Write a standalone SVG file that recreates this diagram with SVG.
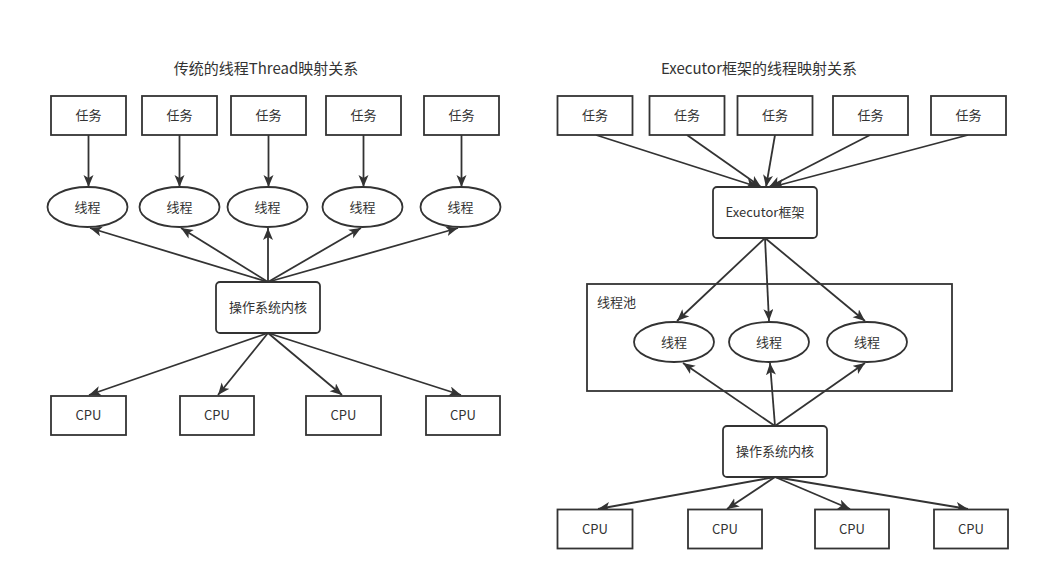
<svg xmlns="http://www.w3.org/2000/svg" width="1039" height="581" viewBox="0 0 1039 581">
<style>
.box{fill:#fff;stroke:#333;stroke-width:1.8}
.ell{fill:#fff;stroke:#333;stroke-width:1.8}
.lbl{font-family:"Noto Sans CJK SC","Microsoft YaHei",sans-serif;font-size:13px;fill:#333;text-anchor:middle}
.title{font-family:"Noto Sans CJK SC","Microsoft YaHei",sans-serif;font-size:15px;fill:#333;text-anchor:middle}
.edge{fill:none;stroke:#333;stroke-width:1.8;marker-end:url(#arr)}
</style>
<defs>
<marker id="arr" markerUnits="userSpaceOnUse" markerWidth="13" markerHeight="11" refX="12" refY="5" orient="auto" viewBox="0 0 13 11">
<path d="M0,0 L12,5 L0,10 L3,5 z" fill="#333"/>
</marker>
</defs>
<rect width="1039" height="581" fill="#fff"/>

<text class="title" x="266" y="74">传统的线程Thread映射关系</text>
<text class="title" x="759" y="74">Executor框架的线程映射关系</text>

<g id="connectors">
<line class="edge" x1="88.5" y1="135" x2="88.5" y2="187"/>
<line class="edge" x1="179.5" y1="135" x2="179.5" y2="187"/>
<line class="edge" x1="268.5" y1="135" x2="268.5" y2="187"/>
<line class="edge" x1="363.5" y1="135" x2="363.5" y2="187"/>
<line class="edge" x1="461.5" y1="135" x2="461.5" y2="187"/>
<line class="edge" x1="268" y1="282" x2="90" y2="228"/>
<line class="edge" x1="268" y1="282" x2="181" y2="228"/>
<line class="edge" x1="268" y1="282" x2="268" y2="228"/>
<line class="edge" x1="268" y1="282" x2="361" y2="228"/>
<line class="edge" x1="268" y1="282" x2="458" y2="228"/>
<line class="edge" x1="268" y1="333" x2="89" y2="395"/>
<line class="edge" x1="268" y1="333" x2="218" y2="395"/>
<line class="edge" x1="268" y1="333" x2="342" y2="395"/>
<line class="edge" x1="268" y1="333" x2="461" y2="395"/>

<line class="edge" x1="596" y1="135" x2="758" y2="187"/>
<line class="edge" x1="687" y1="135" x2="761" y2="187"/>
<line class="edge" x1="775" y1="135" x2="766" y2="187"/>
<line class="edge" x1="870" y1="135" x2="769" y2="187"/>
<line class="edge" x1="968" y1="135" x2="772" y2="187"/>
<line class="edge" x1="765" y1="238" x2="677" y2="321"/>
<line class="edge" x1="765" y1="238" x2="769" y2="321"/>
<line class="edge" x1="765" y1="238" x2="865" y2="321"/>
<line class="edge" x1="775" y1="426" x2="683" y2="363"/>
<line class="edge" x1="775" y1="426" x2="770" y2="363"/>
<line class="edge" x1="775" y1="426" x2="865" y2="363"/>
<line class="edge" x1="775" y1="477" x2="598" y2="509"/>
<line class="edge" x1="775" y1="477" x2="727" y2="509"/>
<line class="edge" x1="775" y1="477" x2="850" y2="509"/>
<line class="edge" x1="775" y1="477" x2="968" y2="509"/>
</g>

<g id="L-task1"><rect class="box" x="51" y="96" width="75" height="39"/><text class="lbl" x="88.5" y="115.5" dy="0.35em">任务</text></g>
<g id="L-task2"><rect class="box" x="142" y="96" width="75" height="39"/><text class="lbl" x="179.5" y="115.5" dy="0.35em">任务</text></g>
<g id="L-task3"><rect class="box" x="231" y="96" width="75" height="39"/><text class="lbl" x="268.5" y="115.5" dy="0.35em">任务</text></g>
<g id="L-task4"><rect class="box" x="326" y="96" width="75" height="39"/><text class="lbl" x="363.5" y="115.5" dy="0.35em">任务</text></g>
<g id="L-task5"><rect class="box" x="424" y="96" width="75" height="39"/><text class="lbl" x="461.5" y="115.5" dy="0.35em">任务</text></g>

<g id="L-thread1"><ellipse class="ell" cx="87.5" cy="207" rx="40" ry="20"/><text class="lbl" x="87.5" y="207" dy="0.35em">线程</text></g>
<g id="L-thread2"><ellipse class="ell" cx="179.5" cy="207" rx="40" ry="20"/><text class="lbl" x="179.5" y="207" dy="0.35em">线程</text></g>
<g id="L-thread3"><ellipse class="ell" cx="267.5" cy="207" rx="40" ry="20"/><text class="lbl" x="267.5" y="207" dy="0.35em">线程</text></g>
<g id="L-thread4"><ellipse class="ell" cx="362.5" cy="207" rx="40" ry="20"/><text class="lbl" x="362.5" y="207" dy="0.35em">线程</text></g>
<g id="L-thread5"><ellipse class="ell" cx="460.5" cy="207" rx="40" ry="20"/><text class="lbl" x="460.5" y="207" dy="0.35em">线程</text></g>

<g id="L-kernel"><rect class="box" x="216" y="282" width="104" height="51" rx="4"/><text class="lbl" x="268" y="307.5" dy="0.35em">操作系统内核</text></g>

<g id="L-cpu1"><rect class="box" x="51" y="396" width="75" height="39"/><text class="lbl" x="88.5" y="415.5" dy="0.35em">CPU</text></g>
<g id="L-cpu2"><rect class="box" x="180" y="396" width="74" height="39"/><text class="lbl" x="217" y="415.5" dy="0.35em">CPU</text></g>
<g id="L-cpu3"><rect class="box" x="306" y="396" width="75" height="39"/><text class="lbl" x="343.5" y="415.5" dy="0.35em">CPU</text></g>
<g id="L-cpu4"><rect class="box" x="426" y="396" width="74" height="39"/><text class="lbl" x="463" y="415.5" dy="0.35em">CPU</text></g>

<g id="R-task1"><rect class="box" x="557.5" y="96" width="75" height="39"/><text class="lbl" x="595" y="115.5" dy="0.35em">任务</text></g>
<g id="R-task2"><rect class="box" x="649.5" y="96" width="75" height="39"/><text class="lbl" x="687" y="115.5" dy="0.35em">任务</text></g>
<g id="R-task3"><rect class="box" x="737.5" y="96" width="75" height="39"/><text class="lbl" x="775" y="115.5" dy="0.35em">任务</text></g>
<g id="R-task4"><rect class="box" x="833" y="96" width="75" height="39"/><text class="lbl" x="870.5" y="115.5" dy="0.35em">任务</text></g>
<g id="R-task5"><rect class="box" x="931" y="96" width="75" height="39"/><text class="lbl" x="968.5" y="115.5" dy="0.35em">任务</text></g>

<g id="R-executor"><rect class="box" x="713" y="187" width="104" height="51" rx="4"/><text class="lbl" x="765" y="212.5" dy="0.35em">Executor框架</text></g>

<g id="R-pool"><rect class="box" x="587" y="284" width="365" height="107" style="fill:none"/><text class="lbl" x="597" y="307" style="text-anchor:start">线程池</text></g>

<g id="R-thread1"><ellipse class="ell" cx="674" cy="342" rx="40" ry="20"/><text class="lbl" x="674" y="342" dy="0.35em">线程</text></g>
<g id="R-thread2"><ellipse class="ell" cx="769" cy="342" rx="40" ry="20"/><text class="lbl" x="769" y="342" dy="0.35em">线程</text></g>
<g id="R-thread3"><ellipse class="ell" cx="867" cy="342" rx="40" ry="20"/><text class="lbl" x="867" y="342" dy="0.35em">线程</text></g>

<g id="R-kernel"><rect class="box" x="723" y="426" width="104" height="51" rx="4"/><text class="lbl" x="775" y="451.5" dy="0.35em">操作系统内核</text></g>

<g id="R-cpu1"><rect class="box" x="557.5" y="509.5" width="75" height="39"/><text class="lbl" x="595" y="529" dy="0.35em">CPU</text></g>
<g id="R-cpu2"><rect class="box" x="688" y="509.5" width="74" height="39"/><text class="lbl" x="725" y="529" dy="0.35em">CPU</text></g>
<g id="R-cpu3"><rect class="box" x="815" y="509.5" width="74" height="39"/><text class="lbl" x="852" y="529" dy="0.35em">CPU</text></g>
<g id="R-cpu4"><rect class="box" x="934" y="509.5" width="74" height="39"/><text class="lbl" x="971" y="529" dy="0.35em">CPU</text></g>
</svg>
